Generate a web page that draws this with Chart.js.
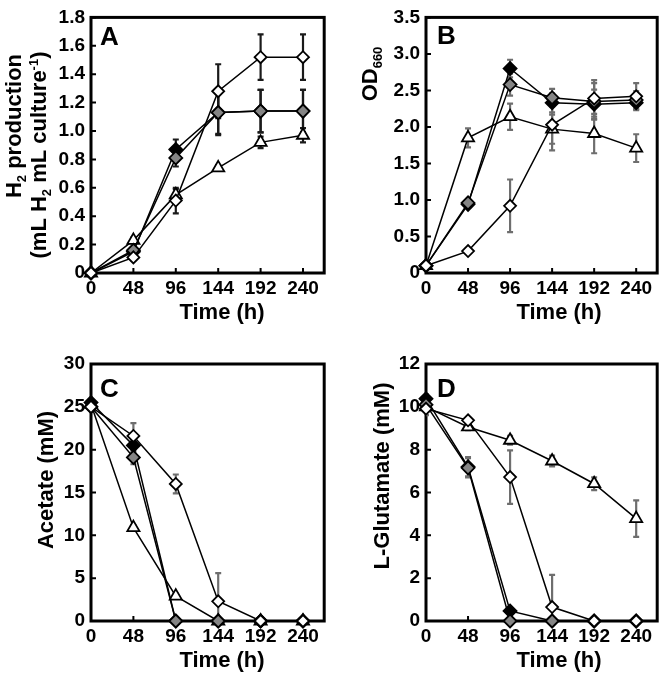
<!DOCTYPE html>
<html><head><meta charset="utf-8">
<script src="https://cdn.jsdelivr.net/npm/chart.js@4.4.1/dist/chart.umd.min.js"></script>
<style>
html,body{margin:0;padding:0;background:#fff;}
#wrap{position:relative;width:666px;height:675px;background:#fff;}
canvas{position:absolute;}
</style></head><body>
<div id="wrap">
<canvas id="cA" style="left:0;top:0" width="333" height="337"></canvas>
<canvas id="cB" style="left:333px;top:0" width="333" height="337"></canvas>
<canvas id="cC" style="left:0;top:337px" width="333" height="338"></canvas>
<canvas id="cD" style="left:333px;top:337px" width="333" height="338"></canvas>
</div>
<script>
// ---------- DATA ----------
const timeH = [0, 48, 96, 144, 192, 240];
const xTickVals = [0, 48, 96, 144, 192, 240];
const xTickLabels = ['0', '48', '96', '144', '192', '240'];

// A: H2 production
const h2Black    = [0, 0.15, 0.87, 1.13, 1.14, 1.14];
const h2Gray     = [0, 0.16, 0.81, 1.13, 1.14, 1.14];
const h2Open     = [0, 0.11, 0.51, 1.28, 1.52, 1.52];
const h2Tri      = [0, 0.23, 0.55, 0.74, 0.92, 0.97];
const h2BlackErr = [0, 0.02, 0.07, 0.16, 0.15, 0.15];
const h2GrayErr  = [0, 0.02, 0.06, 0.15, 0.15, 0.15];
const h2OpenErr  = [0, 0.02, 0.09, 0.19, 0.16, 0.16];
const h2TriErr   = [0, 0.02, 0.04, 0.02, 0.04, 0.05];
const yValsA = [0, 0.2, 0.4, 0.6, 0.8, 1.0, 1.2, 1.4, 1.6, 1.8];
const yLabsA = ['0', '0.2', '0.4', '0.6', '0.8', '1.0', '1.2', '1.4', '1.6', '1.8'];

// B: OD660
const odBlack    = [0.10, 0.94, 2.80, 2.33, 2.31, 2.33];
const odGray     = [0.10, 0.96, 2.58, 2.40, 2.35, 2.37];
const odOpen     = [0.10, 0.30, 0.92, 2.03, 2.39, 2.42];
const odTri      = [0.10, 1.85, 2.14, 1.97, 1.91, 1.71];
const odBlackErr = [0.02, 0.05, 0.12, 0.13, 0.20, 0.10];
const odGrayErr  = [0.02, 0.05, 0.15, 0.12, 0.25, 0.12];
const odOpenErr  = [0.02, 0.03, 0.36, 0.35, 0.25, 0.18];
const odTriErr   = [0.02, 0.13, 0.18, 0.20, 0.27, 0.19];
const yValsB = [0, 0.5, 1.0, 1.5, 2.0, 2.5, 3.0, 3.5];
const yLabsB = ['0', '0.5', '1.0', '1.5', '2.0', '2.5', '3.0', '3.5'];

// C: Acetate
const acBlack    = [25.5, 20.5, 0, 0, 0, 0];
const acGray     = [25.0, 19.1, 0, 0, 0, 0];
const acOpen     = [25.0, 21.6, 16.0, 2.3, 0, 0];
const acTri      = [25.3, 10.9, 2.9, 0, 0, 0];
const acBlackErr = [0.3, 0.8, 0, 0, 0, 0];
const acGrayErr  = [0.3, 0.8, 0, 0, 0, 0];
const acOpenErr  = [0.3, 1.5, 1.1, 3.3, 0, 0];
const acTriErr   = [0.3, 0.3, 0.3, 0, 0, 0];
const yValsC = [0, 5, 10, 15, 20, 25, 30];
const yLabsC = ['0', '5', '10', '15', '20', '25', '30'];

// D: L-Glutamate
const glBlack    = [10.38, 7.20, 0.47, 0, 0, 0];
const glGray     = [10.10, 7.15, 0, 0, 0, 0];
const glOpen     = [9.91, 9.37, 6.72, 0.65, 0, 0];
const glTri      = [10.00, 9.06, 8.44, 7.47, 6.41, 4.78];
const glBlackErr = [0.20, 0.45, 0.10, 0, 0, 0];
const glGrayErr  = [0.20, 0.45, 0, 0, 0, 0];
const glOpenErr  = [0.30, 0.10, 1.25, 1.50, 0, 0];
const glTriErr   = [0.10, 0.15, 0.20, 0.25, 0.30, 0.85];
const yValsD = [0, 2, 4, 6, 8, 10, 12];
const yLabsD = ['0', '2', '4', '6', '8', '10', '12'];

// ---------- STYLE ----------
const FONT = '"Liberation Sans", Arial, Helvetica, sans-serif';
// order: open diamond (top), gray diamond, black diamond, open triangle (bottom)
const seriesStyles = [
  {pointStyle: 'rectRot', radius: 6, bg: '#ffffff'},
  {pointStyle: 'rectRot', radius: 6.5, bg: '#858585'},
  {pointStyle: 'rectRot', radius: 6.5, bg: '#000000'},
  {pointStyle: 'triangle', radius: 7, bg: '#ffffff'}
];

const panels = [
  {id: 'cA', series: [h2Open, h2Gray, h2Black, h2Tri], errs: [h2OpenErr, h2GrayErr, h2BlackErr, h2TriErr],
   yVals: yValsA, yLabs: yLabsA, errColor: '#1a1a1a',
   pad: {left: 0, top: 14, right: 7, bottom: 0}, yW: 91, xH: 64,
   letter: {t: 'A', x: 100, y: 45},
   yTitle: [{x: 13, y: 126, parts: [{t: 'H'}, {t: '2', s: 'sub'}, {t: ' production'}]},
            {x: 38, y: 155, parts: [{t: '(mL H'}, {t: '2', s: 'sub'}, {t: ' mL culture'}, {t: '-1', s: 'sup'}, {t: ')'}]}],
   xTitle: {x: 222, y: 311}},
  {id: 'cB', series: [odOpen, odGray, odBlack, odTri], errs: [odOpenErr, odGrayErr, odBlackErr, odTriErr],
   yVals: yValsB, yLabs: yLabsB, errColor: '#6e6e6e',
   pad: {left: 0, top: 14, right: 8, bottom: 0}, yW: 93, xH: 64,
   letter: {t: 'B', x: 104, y: 44},
   yTitle: [{x: 36, y: 74, parts: [{t: 'OD'}, {t: '660', s: 'sub'}]}],
   xTitle: {x: 226, y: 311}},
  {id: 'cC', series: [acOpen, acGray, acBlack, acTri], errs: [acOpenErr, acGrayErr, acBlackErr, acTriErr],
   yVals: yValsC, yLabs: yLabsC, errColor: '#6e6e6e',
   pad: {left: 0, top: 27, right: 7, bottom: 0}, yW: 91, xH: 54,
   letter: {t: 'C', x: 100, y: 60},
   yTitle: [{x: 45, y: 143, parts: [{t: 'Acetate (mM)'}]}],
   xTitle: {x: 222, y: 322}},
  {id: 'cD', series: [glOpen, glGray, glBlack, glTri], errs: [glOpenErr, glGrayErr, glBlackErr, glTriErr],
   yVals: yValsD, yLabs: yLabsD, errColor: '#6e6e6e',
   pad: {left: 0, top: 27, right: 8, bottom: 0}, yW: 93, xH: 54,
   letter: {t: 'D', x: 104, y: 60},
   yTitle: [{x: 48, y: 139, parts: [{t: 'L-Glutamate (mM)'}]}],
   xTitle: {x: 226, y: 322}}
];

function drawRich(ctx, parts, x, y, rot, size) {
  const big = 'bold ' + size + 'px ' + FONT;
  const small = 'bold ' + Math.round(size * 0.6) + 'px ' + FONT;
  ctx.save();
  ctx.translate(x, y);
  ctx.rotate(rot);
  let total = 0; const w = [];
  parts.forEach(p => { ctx.font = p.s ? small : big; const m = ctx.measureText(p.t).width; w.push(m); total += m; });
  let cx = -total / 2;
  ctx.textBaseline = 'alphabetic';
  ctx.textAlign = 'left';
  ctx.fillStyle = '#000';
  parts.forEach((p, i) => {
    ctx.font = p.s ? small : big;
    const dy = p.s === 'sub' ? size * 0.22 : (p.s === 'sup' ? -size * 0.38 : 0);
    ctx.fillText(p.t, cx, size * 0.36 + dy);
    cx += w[i];
  });
  ctx.restore();
}

function framePlugin(p) {
  return {
    id: 'frame' + p.id,
    beforeDatasetsDraw(chart) {
      const ctx = chart.ctx, a = chart.chartArea;
      ctx.save();
      ctx.strokeStyle = '#000';
      ctx.lineWidth = 3;
      ctx.strokeRect(a.left, a.top, a.right - a.left, a.bottom - a.top);
      ctx.lineWidth = 2;
      ctx.beginPath();
      chart.scales.x.ticks.forEach(t => {
        const px = chart.scales.x.getPixelForValue(t.value);
        ctx.moveTo(px, a.bottom); ctx.lineTo(px, a.bottom - 5);
      });
      chart.scales.y.ticks.forEach(t => {
        const py = chart.scales.y.getPixelForValue(t.value);
        ctx.moveTo(a.left, py); ctx.lineTo(a.left + 5, py);
      });
      ctx.stroke();
      // error bars
      ctx.strokeStyle = p.errColor;
      ctx.lineWidth = 2.2;
      ctx.save();
      ctx.beginPath();
      ctx.rect(a.left, a.top - 2, a.right - a.left, a.bottom - a.top + 2);
      ctx.clip();
      chart.data.datasets.forEach(ds => {
        const e = ds.errors;
        ds.data.forEach((pt, i) => {
          if (!e[i]) return;
          const px = chart.scales.x.getPixelForValue(pt.x);
          const y1 = chart.scales.y.getPixelForValue(pt.y + e[i]);
          const y2 = chart.scales.y.getPixelForValue(pt.y - e[i]);
          ctx.beginPath();
          ctx.moveTo(px, y1); ctx.lineTo(px, y2);
          ctx.moveTo(px - 3, y1); ctx.lineTo(px + 3, y1);
          ctx.moveTo(px - 3, y2); ctx.lineTo(px + 3, y2);
          ctx.stroke();
        });
      });
      ctx.restore();
      ctx.restore();
    },
    afterDraw(chart) {
      const ctx = chart.ctx;
      ctx.save();
      ctx.fillStyle = '#000';
      ctx.font = 'bold 26px ' + FONT;
      ctx.textAlign = 'left';
      ctx.textBaseline = 'alphabetic';
      ctx.fillText(p.letter.t, p.letter.x, p.letter.y);
      ctx.restore();
      p.yTitle.forEach(l => drawRich(ctx, l.parts, l.x, l.y, -Math.PI / 2, 22));
      drawRich(ctx, [{t: 'Time (h)'}], p.xTitle.x, p.xTitle.y, 0, 22);
    }
  };
}

panels.forEach(p => {
  const datasets = p.series.map((arr, k) => {
    const st = seriesStyles[k];
    return {
      data: timeH.map((t, i) => ({x: t, y: arr[i]})),
      errors: p.errs[k],
      borderColor: '#000',
      borderWidth: 1.5,
      pointStyle: st.pointStyle,
      pointRadius: st.radius,
      pointBackgroundColor: st.bg,
      pointBorderColor: '#000',
      pointBorderWidth: 1.8,
      tension: 0,
      clip: false
    };
  });
  const tickFont = {family: FONT, size: 19, weight: 'bold'};
  new Chart(document.getElementById(p.id), {
    type: 'line',
    data: {datasets},
    options: {
      responsive: false,
      animation: false,
      devicePixelRatio: 1,
      layout: {padding: p.pad},
      plugins: {legend: {display: false}, tooltip: {enabled: false}},
      scales: {
        x: {
          type: 'linear', min: 0, max: 264,
          grid: {display: false, drawTicks: false}, border: {display: false},
          afterBuildTicks: s => { s.ticks = xTickVals.map(v => ({value: v})); },
          ticks: {autoSkip: false, maxRotation: 0, padding: 4, font: tickFont, color: '#000',
                  callback: (v, i) => xTickLabels[i]},
          afterFit: s => { s.height = p.xH; }
        },
        y: {
          type: 'linear', min: 0, max: p.yVals[p.yVals.length - 1],
          grid: {display: false, drawTicks: false}, border: {display: false},
          afterBuildTicks: s => { s.ticks = p.yVals.map(v => ({value: v})); },
          ticks: {autoSkip: false, padding: 6, font: tickFont, color: '#000',
                  callback: (v, i) => p.yLabs[i]},
          afterFit: s => { s.width = p.yW; }
        }
      }
    },
    plugins: [framePlugin(p)]
  });
});
</script>
</body></html>
